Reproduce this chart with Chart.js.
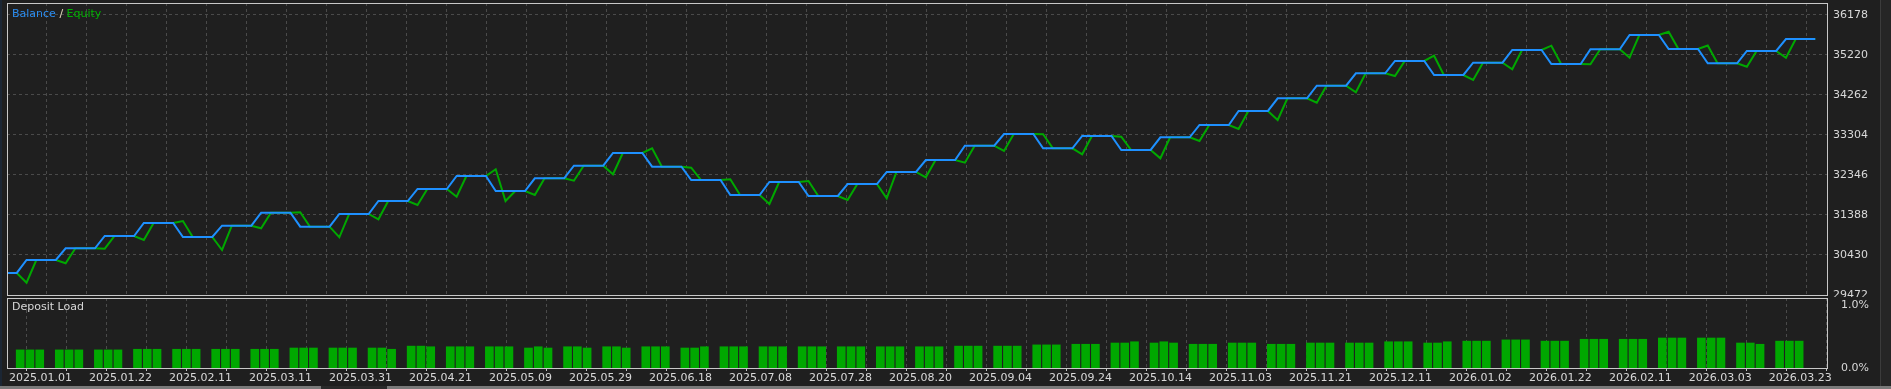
<!DOCTYPE html>
<html lang="en">
<head>
  <meta charset="UTF-8" />
  <title>Balance / Equity</title>
  <script src="https://cdn.jsdelivr.net/npm/chart.js"></script>
  <style>
    body {
      margin: 0;
      background-color: #1f1f1f;
      overflow: hidden;
      font-family: "DejaVu Sans", sans-serif;
      font-size: 11px;
    }

    #wrap {
      position: relative;
      width: 1891px;
      height: 389px;
    }

    canvas {
      position: absolute;
      left: 0;
    }

    #mainChart { top: 0; }
    #loadChart { top: 297px; }

    .caption {
      position: absolute;
      left: 12px;
      line-height: 13px;
      color: #d8d8d8;
      white-space: nowrap;
    }

    .edge-left {
      position: absolute; left: 0; top: 0; width: 2px; height: 389px;
      background-color: #1b2634;
    }

    .edge-right {
      position: absolute; left: 1880px; top: 0; width: 11px; height: 389px;
      background-color: #262626;
      border-left: 1px solid #3c3c3c;
    }

    .scroll {
      position: absolute; left: 0; top: 386px; width: 1891px; height: 3px;
      background-color: #7a7a7a;
    }

    .scroll span {
      position: absolute; left: 321px; width: 66px; height: 3px;
      background-color: #2a2a2a;
    }
  </style>
</head>
<body>
  <div id="wrap">
    <canvas id="mainChart" width="1891" height="297"></canvas>
    <canvas id="loadChart" width="1891" height="92"></canvas>
    <div class="caption" style="top: 7px;">
      <span style="color: #2a8cf0;">Balance</span>
      <span style="color: #e8dcc0;">/</span>
      <span style="color: #00b000;">Equity</span>
    </div>
    <div class="caption" style="top: 300px;">Deposit Load</div>
    <div class="edge-left"></div>
    <div class="edge-right"></div>
    <div class="scroll"><span></span></div>
  </div>

  <script>
    // datas do eixo (a cada segunda linha da grade)
    const dateLabels = [
      "2025.01.01", "2025.01.22", "2025.02.11", "2025.03.11", "2025.03.31", "2025.04.21",
      "2025.05.09", "2025.05.29", "2025.06.18", "2025.07.08", "2025.07.28", "2025.08.20",
      "2025.09.04", "2025.09.24", "2025.10.14", "2025.11.03", "2025.11.21", "2025.12.11",
      "2026.01.02", "2026.01.22", "2026.02.11", "2026.03.03", "2026.03.23"
    ];

    // valores do eixo de saldo
    const balanceTicks = [29472, 30430, 31388, 32346, 33304, 34262, 35220, 36178];

    // saldo antes do primeiro trade e depois de cada trade
    const balanceLevels = [
      30000, 30310, 30590, 30885, 31196, 30861, 31132, 31443, 31108, 31412,
      31723, 32011, 32322, 31963, 32267, 32569, 32873, 32545, 32226, 31867,
      32178, 31843, 32130, 32418, 32705, 33048, 33328, 32985, 33280, 32945,
      33249, 33544, 33879, 34183, 34485, 34782, 35076, 34741, 35036, 35340,
      35004, 35357, 35699, 35364, 35021, 35316, 35603
    ];

    // equity no meio de cada trade
    const equityMid = [
      29767, 30231, 30581, 30789, 31244, 30550, 31069, 31453, 30854, 31285,
      31628, 31826, 32483, 31867, 32209, 32363, 32985, 32521, 32243, 31651,
      32202, 31747, 31788, 32291, 32641, 32921, 33321, 32842, 33263, 32746,
      33160, 33448, 33663, 34078, 34327, 34717, 35203, 34621, 34878, 35443,
      34997, 35155, 35778, 35448, 34940, 35155
    ];

    // equity no ponto seguinte
    const equityLate = [
      30310, 30590, 30885, 31196, 30861, 31132, 31443, 31108, 31412, 31723,
      32011, 32322, 31723, 32267, 32569, 32873, 32545, 32226, 31867, 32178,
      31843, 32130, 32418, 32705, 33048, 33328, 32985, 33280, 32945, 33249,
      33544, 33879, 34183, 34485, 34782, 35076, 34741, 35036, 35340, 35004,
      35357, 35699, 35364, 35021, 35316, 35603
    ];

    // carga do depósito (%), 3 barras por trade
    const depositLoad = [
      [0.29, 0.29, 0.29], [0.29, 0.29, 0.29], [0.29, 0.29, 0.29], [0.30, 0.30, 0.30],
      [0.30, 0.30, 0.30], [0.30, 0.30, 0.30], [0.30, 0.30, 0.30], [0.32, 0.32, 0.32],
      [0.32, 0.32, 0.32], [0.32, 0.32, 0.30], [0.35, 0.35, 0.34], [0.34, 0.34, 0.34],
      [0.34, 0.34, 0.34], [0.32, 0.34, 0.32], [0.34, 0.34, 0.32], [0.34, 0.34, 0.32],
      [0.34, 0.34, 0.34], [0.32, 0.32, 0.34], [0.34, 0.34, 0.34], [0.34, 0.34, 0.34],
      [0.34, 0.34, 0.34], [0.34, 0.34, 0.34], [0.34, 0.34, 0.34], [0.34, 0.34, 0.34],
      [0.35, 0.35, 0.35], [0.35, 0.35, 0.35], [0.37, 0.37, 0.37], [0.38, 0.38, 0.38],
      [0.40, 0.40, 0.42], [0.40, 0.42, 0.40], [0.38, 0.38, 0.38], [0.40, 0.40, 0.40],
      [0.38, 0.38, 0.38], [0.40, 0.40, 0.40], [0.40, 0.40, 0.40], [0.42, 0.42, 0.42],
      [0.40, 0.40, 0.42], [0.43, 0.43, 0.43], [0.45, 0.45, 0.45], [0.43, 0.43, 0.43],
      [0.46, 0.46, 0.46], [0.46, 0.46, 0.46], [0.48, 0.48, 0.48], [0.48, 0.48, 0.48],
      [0.40, 0.40, 0.38], [0.43, 0.43, 0.43]
    ];

    // eixo x = número do ponto do relatório
    const xMax = 186.2;
    const gridStep = 4.092;
    const gridCount = 46;

    const balancePts = [{ x: 0, y: balanceLevels[0] }];
    const equityPts = [{ x: 0, y: balanceLevels[0] }];
    const loadPts = [];

    for (let k = 0; k < equityMid.length; k++) {
      const base = 1 + k * 4;
      const before = balanceLevels[k];
      const after = balanceLevels[k + 1];
      balancePts.push({ x: base, y: before }, { x: base + 1, y: after },
                      { x: base + 2, y: after }, { x: base + 3, y: after });
      equityPts.push({ x: base, y: before }, { x: base + 1, y: equityMid[k] },
                     { x: base + 2, y: equityLate[k] }, { x: base + 3, y: after });
      depositLoad[k].forEach((v, j) => loadPts.push({ x: base + j + 0.35, y: v }));
    }
    const last = balanceLevels[balanceLevels.length - 1];
    balancePts.push({ x: 4 * equityMid.length + 1, y: last });
    equityPts.push({ x: 4 * equityMid.length + 1, y: last });

    Chart.defaults.font.family = "'DejaVu Sans', sans-serif";
    Chart.defaults.font.size = 11;
    Chart.defaults.color = "#d8d8d8";

    const gridColor = "#4a4a4a";

    // moldura branca em volta da área do gráfico
    const paneFrame = {
      id: "paneFrame",
      afterDraw(chart) {
        const { ctx, chartArea: a } = chart;
        ctx.save();
        ctx.strokeStyle = "#c8c8c8";
        ctx.lineWidth = 1;
        ctx.strokeRect(a.left + 0.5, a.top + 0.5, a.right - a.left, a.bottom - a.top);
        ctx.restore();
      }
    };

    function gridTicks(scale) {
      scale.ticks = Array.from({ length: gridCount }, (_, i) => ({ value: i * gridStep }));
    }

    function rightAxisFit(scale) {
      scale.width = 64;
      scale.paddingTop = 0;
      scale.paddingBottom = 0;
    }

    // Gráfico principal: saldo e equity
    new Chart(document.getElementById("mainChart"), {
      type: "line",
      data: {
        datasets: [
          { label: "Balance", data: balancePts, borderColor: "#1e90ff", borderWidth: 2 },
          { label: "Equity", data: equityPts, borderColor: "#00a800", borderWidth: 2 }
        ]
      },
      options: {
        responsive: false,
        animation: false,
        devicePixelRatio: 1,
        layout: { padding: { left: 7, top: 3, right: 0, bottom: 2 } },
        elements: { point: { radius: 0 }, line: { tension: 0 } },
        plugins: { legend: { display: false }, tooltip: { enabled: false } },
        scales: {
          x: {
            type: "linear",
            min: 0,
            max: xMax,
            afterBuildTicks: gridTicks,
            afterFit(scale) { scale.height = 0; scale.paddingLeft = 0; scale.paddingRight = 0; },
            ticks: { display: false },
            grid: { color: gridColor, drawTicks: false },
            border: { display: false, dash: [3, 3] }
          },
          y: {
            position: "right",
            min: balanceTicks[0],
            max: 36465,
            afterBuildTicks(scale) { scale.ticks = balanceTicks.map(v => ({ value: v })); },
            afterFit: rightAxisFit,
            ticks: { padding: 6, color: "#d8d8d8", callback: v => String(v) },
            grid: { color: gridColor, drawTicks: false },
            border: { display: false, dash: [3, 3] }
          }
        }
      },
      plugins: [paneFrame]
    });

    // Gráfico de barras: carga do depósito
    new Chart(document.getElementById("loadChart"), {
      type: "bar",
      data: {
        datasets: [{
          label: "Deposit Load",
          data: loadPts,
          backgroundColor: "#00a800",
          barThickness: 8
        }]
      },
      options: {
        responsive: false,
        animation: false,
        devicePixelRatio: 1,
        layout: { padding: { left: 7, top: 1, right: 0, bottom: 0 } },
        plugins: { legend: { display: false }, tooltip: { enabled: false } },
        scales: {
          x: {
            type: "linear",
            min: 0,
            max: xMax,
            offset: false,
            afterBuildTicks: gridTicks,
            afterFit(scale) { scale.height = 21; scale.paddingLeft = 0; scale.paddingRight = 0; },
            ticks: {
              autoSkip: false,
              maxRotation: 0,
              align: "start",
              labelOffset: 2,
              padding: 1,
              color: "#d8d8d8",
              callback: (v, i) => (i % 2 === 0 ? dateLabels[i / 2] : "")
            },
            grid: { color: gridColor, tickColor: "#c8c8c8", tickLength: 3, tickBorderDash: [] },
            border: { display: false, dash: [3, 3] }
          },
          y: {
            position: "right",
            min: 0,
            max: 1.12,
            afterBuildTicks(scale) { scale.ticks = [{ value: 0 }, { value: 1 }]; },
            afterFit: rightAxisFit,
            ticks: { padding: 6, color: "#d8d8d8", callback: v => v.toFixed(1) + "%" },
            grid: { display: false },
            border: { display: false }
          }
        }
      },
      plugins: [paneFrame]
    });
  </script>
</body>
</html>
